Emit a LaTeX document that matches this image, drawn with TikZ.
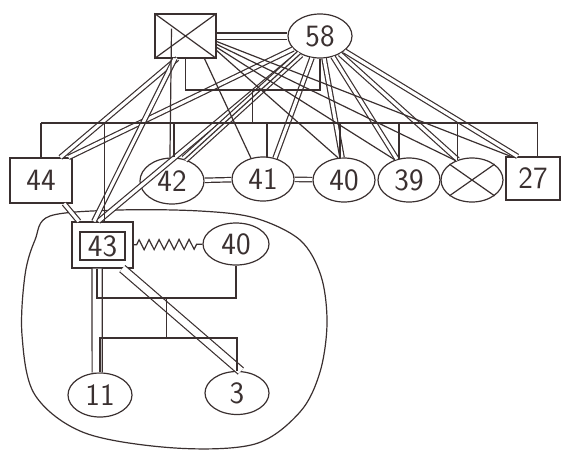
\documentclass[tikz,border=0pt]{standalone}
\usetikzlibrary{shapes.geometric,decorations.pathmorphing,calc}
\definecolor{ink}{RGB}{58,48,48}
\begin{document}
\begin{tikzpicture}[x=1pt,y=-1pt, line width=1.2pt, draw=ink,
  base/.style={draw=ink, text=ink, inner sep=0pt, font=\fontsize{31}{31}\selectfont\sffamily},
  box/.style={base, rectangle},
  oval/.style={base, ellipse, minimum width=64pt, minimum height=44pt},
  rel/.style={draw=ink},
  rel2/.style={draw=ink, double=white, double distance=3.2pt},
  wave/.style={draw=ink, decorate, decoration={zigzag, segment length=10pt, amplitude=5pt, pre length=3pt, post length=2pt}}]
\useasboundingbox (0,0) rectangle (561,450);
% enclosing line of the household
\draw[rel] plot[smooth cycle, tension=0.55] coordinates {(50,216) (120,210) (200,211) (255,218) (300,240) (321,276) (327,323) (320,372) (300,412) (255,444) (175,448) (85,433) (35,395) (22,335) (25,275) (35,240)};
% people
\node[box, minimum width=61pt, minimum height=44pt] (f) at (185.5,36) {};
\draw[rel] (f.north west) -- (f.south east) (f.north east) -- (f.south west);
\node[oval] (m) at (320,36) {58};
\node[box, minimum width=62pt, minimum height=45pt] (n44) at (41,180.5) {44};
\node[oval, minimum width=64pt, minimum height=46pt] (n42) at (172,181) {42};
\node[oval, minimum width=62pt] (n41) at (263,179) {41};
\node[oval, minimum width=62pt] (n40) at (344,180) {40};
\node[oval, minimum width=62pt] (n39) at (409,180) {39};
\node[oval, minimum width=62pt] (nx) at (472,180) {};
\draw[rel] (nx.145) -- (nx.-35) (nx.-145) -- (nx.35);
\node[box, minimum width=54pt, minimum height=43pt] (n27) at (533,178.5) {27};
\node[box, minimum width=61pt, minimum height=46pt] (n43) at (102.5,245) {};
\node[box, minimum width=45pt, minimum height=28pt] (n43i) at (102.5,246) {43};
\node[oval, minimum width=66pt, minimum height=42pt] (p40) at (236,244) {40};
\node[oval] (n11) at (100,395) {11};
\node[oval, minimum height=43pt] (n3) at (237,393) {3};
% relations of 58
\draw[rel2] (m) -- (n44.40);
\draw[rel2] (m) -- (n43.100);
\draw[rel2, double distance=6pt] (m) -- (n42.60);
\draw[rel] (m) -- (n42.60);
\draw[rel2] (m) -- (n41.60);
\draw[rel2] (m) -- (n40.95);
\draw[rel2] (m) -- (n39.120);
\draw[rel2] (m) -- (nx.125);
\draw[rel2] (m) -- (n27.125);
% relations of the father
\draw[rel2] (f.-110) -- (n44.50);
\draw[rel2] (f.-115) -- (n43.110);
\draw[rel] (f.-50) -- (n41.120);
\draw[rel] (f.-25) -- (n40.105);
\draw[rel] (f.-20) -- (n39.125);
\draw[rel] (f.-15) -- (nx.130);
\draw[rel] (f.-10) -- (n27.135);
\draw[rel] ($(f.south)+(-14,-30)$) -- (n42.95);
\draw[rel2, double distance=5pt] (f) -- (m);
\draw[rel2] (n42) -- (n41);
\draw[rel2] (n41) -- (n40);
\draw[rel2] (n44.-45) -- (n43.135);
% family lines
\coordinate (par) at (0,90);
\coordinate (sib) at (0,123);
\draw[rel] (f.south) -- (f.south |- par) -- (m.south |- par) -- (m.south);
\draw[rel] ($(f.south |- par)!0.5!(m.south |- par)$) -- ++(0,33);
\draw[rel] (n44.north |- sib) -- (n27.78 |- sib);
\foreach \a in {n44.north, n43.85, n42.85, n41.80, n40.100, n39.115, nx.125, n27.78}
  \draw[rel] (\a) -- (\a |- sib);
% household of 43
\draw[rel2, double distance=9pt] (n43.-103) -- (n11.97);
\draw[rel2, double distance=7pt] (n43.-50) -- (n3.80);
\draw[wave] (n43) -- (p40);
\coordinate (par2) at (0,298);
\coordinate (sib2) at (0,338);
\draw[rel] (n43.-103) -- (n43.-103 |- par2) -- (p40.south |- par2) -- (p40.south);
\draw[rel] ($(n43.-103 |- par2)!0.5!(p40.south |- par2)$) -- ++(0,40);
\draw[rel] (n11.north) -- (n11.north |- sib2) -- (n3.north |- sib2) -- (n3.north);
\end{tikzpicture}
\end{document}
